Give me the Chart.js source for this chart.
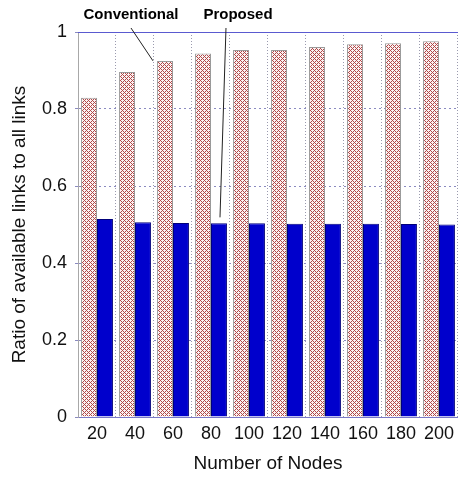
<!DOCTYPE html>
<html>
<head>
<meta charset="utf-8">
<script src="https://cdn.jsdelivr.net/npm/chart.js@4"></script>
<style>
  html, body { margin: 0; padding: 0; background: #fff; overflow: hidden; }
  #wrap { width: 460px; height: 479px; }
</style>
</head>
<body>
<div id="wrap"><canvas id="linksChart" width="460" height="479"></canvas></div>
<script>
// chart values
const nodeLabels = ['20', '40', '60', '80', '100', '120', '140', '160', '180', '200'];
const conventional = [0.829, 0.896, 0.925, 0.944, 0.953, 0.953, 0.961, 0.968, 0.971, 0.976];
const proposed = [0.514, 0.506, 0.504, 0.503, 0.503, 0.502, 0.502, 0.502, 0.501, 0.500];
const yTicks = [0, 0.2, 0.4, 0.6, 0.8, 1];

const FONT = '"Liberation Sans", Arial, sans-serif';

// red crosshatch fill used for the conventional bars
function makeHatch() {
    const c = document.createElement('canvas');
    c.width = 4; c.height = 4;
    const g = c.getContext('2d');
    g.fillStyle = '#fbf3f3';
    g.fillRect(0, 0, 4, 4);
    g.fillStyle = '#b04848';
    for (let x = 0; x < 4; x++) {
        for (let y = 0; y < 4; y++) {
            if ((x + y) % 4 === 0 || (x - y + 4) % 4 === 0) g.fillRect(x, y, 1, 1);
        }
    }
    return document.getElementById('linksChart').getContext('2d').createPattern(c, 'repeat');
}

// callout labels with leader lines, anchored on the bars through the scales
const calloutPlugin = {
    id: 'callouts',
    afterDraw(chart) {
        const { ctx, chartArea, scales: { x, y } } = chart;
        ctx.save();
        // top frame line
        ctx.strokeStyle = '#5a5ad0';
        ctx.lineWidth = 1;
        ctx.beginPath();
        ctx.moveTo(chartArea.left, chartArea.top + 0.5);
        ctx.lineTo(chartArea.right, chartArea.top + 0.5);
        ctx.stroke();

        ctx.font = 'bold 15px ' + FONT;
        ctx.fillStyle = '#000';
        ctx.textAlign = 'center';
        ctx.textBaseline = 'middle';
        const convX = x.getPixelForValue(1) - 4;
        const propX = x.getPixelForValue(3) + 27;
        ctx.fillText('Conventional', convX, 15);
        ctx.fillText('Proposed', propX, 15);

        ctx.strokeStyle = '#222';
        ctx.beginPath();
        ctx.moveTo(convX, 28);
        ctx.lineTo(x.getPixelForValue(2) - 20, y.getPixelForValue(conventional[2]));
        ctx.moveTo(x.getPixelForValue(3) + 15, 28);
        ctx.lineTo(x.getPixelForValue(3) + 9, y.getPixelForValue(proposed[3]) - 6);
        ctx.stroke();
        ctx.restore();
    }
};

new Chart(document.getElementById('linksChart'), {
    type: 'bar',
    data: {
        labels: nodeLabels,
        datasets: [
            { label: 'Conventional', data: conventional, backgroundColor: makeHatch(), borderColor: '#9a9a9a', borderWidth: 1 },
            { label: 'Proposed', data: proposed, backgroundColor: '#0000cc', borderColor: '#00007a', borderWidth: 1 }
        ]
    },
    options: {
        responsive: false,
        animation: false,
        layout: { padding: { top: 32, right: 0, left: 0, bottom: 0 } },
        plugins: { legend: { display: false }, tooltip: { enabled: false } },
        datasets: { bar: { barPercentage: 1, categoryPercentage: 0.84 } },
        scales: {
            x: {
                grid: { color: '#9a9aae', tickLength: 0, offset: true },
                border: { color: '#7a7ac8', dash: [1, 2] },
                ticks: { font: { family: FONT, size: 18 }, color: '#111', padding: 6 },
                title: { display: true, text: 'Number of Nodes', font: { family: FONT, size: 19 }, color: '#111', padding: { top: 13 } },
                afterFit(scale) { scale.height = 62; }
            },
            y: {
                min: 0, max: 1,
                afterBuildTicks(scale) { scale.ticks = yTicks.map(v => ({ value: v })); },
                grid: { color: '#8a8ac0', tickLength: 3 },
                border: { color: '#a8a8a8', dash: [2, 3] },
                ticks: { font: { family: FONT, size: 18 }, color: '#111', padding: 8, callback: v => String(v) },
                title: { display: true, text: 'Ratio of available links to all links', font: { family: FONT, size: 19 }, color: '#111', padding: { top: 8 } },
                afterFit(scale) { scale.width = 78; }
            }
        }
    },
    plugins: [calloutPlugin]
});
</script>
</body>
</html>
